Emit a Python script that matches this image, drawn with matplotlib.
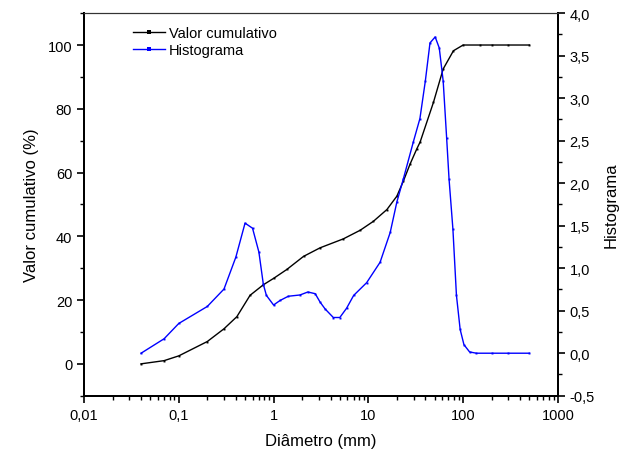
import matplotlib
matplotlib.use("Agg")
import matplotlib.pyplot as plt
from matplotlib.ticker import FixedLocator, FuncFormatter, LogLocator, MultipleLocator, NullFormatter
import numpy as np

plt.rcParams['font.family'] = ['Liberation Sans', 'DejaVu Sans']

# cumulative curve (left axis, %)
cum_d = [0.04, 0.07, 0.1, 0.2, 0.3, 0.41, 0.565, 0.78, 1.0, 1.38, 2.07, 3.1, 5.45, 8.2, 11.3, 15.7, 20,
         23.4, 27.5, 32.3, 35.2, 48.6, 61.6, 79, 100, 150, 200, 300, 500]
cum_v = [0.0, 1.0, 2.5, 7.0, 11.0, 14.8, 21.5, 24.8, 26.8, 29.6, 33.7, 36.4, 39.2, 41.9, 44.7, 48.4, 52.6,
         57.3, 62.6, 67.3, 69.6, 82.0, 92.5, 98.2, 100.0, 100.0, 100.0, 100.0, 100.0]

# histogram curve (right axis)
hist_d = [0.04, 0.07, 0.1, 0.2, 0.3, 0.4, 0.5, 0.6, 0.7, 0.78, 0.84, 1.0, 1.17, 1.43, 1.9, 2.3, 2.75,
          3.1, 3.5, 4.27, 5.0, 5.9, 7.0, 9.6, 13.3, 17, 20, 23.4, 29.9, 35, 39.9, 44.7, 50.7,
          56, 61.6, 67, 71, 78, 85, 93, 102, 117, 138, 200, 300, 500]
hist_v = [0.0, 0.17, 0.35, 0.55, 0.755, 1.13, 1.53, 1.47, 1.19, 0.81, 0.68, 0.567, 0.62, 0.67, 0.685, 0.72, 0.70,
          0.6, 0.52, 0.42, 0.42, 0.53, 0.68, 0.83, 1.07, 1.42, 1.78, 2.05, 2.49, 2.76, 3.2, 3.65, 3.72,
          3.59, 3.2, 2.53, 2.05, 1.46, 0.68, 0.28, 0.1, 0.015, 0.0, 0.0, 0.0, 0.0]

x_ticks = [0.01, 0.1, 1, 10, 100, 1000]
x_labels = ['0,01', '0,1', '1', '10', '100', '1000']

fig, ax = plt.subplots(figsize=(6.34, 4.56), dpi=100)
fig.subplots_adjust(left=0.1325, right=0.88, top=0.969, bottom=0.13)
ax2 = ax.twinx()

l1, = ax.plot(cum_d, cum_v, color='black', lw=1.0, marker='s', ms=1.4, mew=0, label='Valor cumulativo')
l2, = ax2.plot(hist_d, hist_v, color='#0000ff', lw=1.0, marker='s', ms=1.4, mew=0, label='Histograma')

ax.set_xscale('log')
ax.set_xlim(0.01, 1000)
ax.set_ylim(-10, 110)
ax2.set_ylim(-0.5, 4.0)

ax.xaxis.set_major_locator(FixedLocator(x_ticks))
ax.xaxis.set_major_formatter(FuncFormatter(lambda v, p: x_labels[x_ticks.index(v)] if v in x_ticks else ''))
ax.xaxis.set_minor_locator(LogLocator(base=10, subs=np.arange(2, 10)))
ax.xaxis.set_minor_formatter(NullFormatter())

ax.yaxis.set_major_locator(FixedLocator([0, 20, 40, 60, 80, 100]))
ax.yaxis.set_minor_locator(FixedLocator([-10, 10, 30, 50, 70, 90, 110]))
ax2.yaxis.set_major_locator(MultipleLocator(0.5))
ax2.yaxis.set_minor_locator(MultipleLocator(0.25))
ax2.yaxis.set_major_formatter(FuncFormatter(lambda v, p: ('%.1f' % v).replace('.', ',')))

for a in (ax, ax2):
    a.tick_params(which='major', direction='out', length=5, width=1.2, labelsize=10.5)
    a.tick_params(which='minor', direction='out', length=3, width=1.0)
    for s in ('left', 'right', 'bottom'):
        a.spines[s].set_linewidth(1.4)
    a.spines['top'].set_linewidth(0.8)
    a.spines['top'].set_color('#333333')

ax.set_xlabel('Diâmetro (mm)', fontsize=12, labelpad=8)
ax.set_ylabel('Valor cumulativo (%)', fontsize=12, labelpad=6)
ax2.set_ylabel('Histograma', fontsize=12, labelpad=6)

ax.legend(handles=[l1, l2], loc='upper left', bbox_to_anchor=(0.075, 1.0), frameon=False,
          fontsize=10.5, handlelength=2.2, handletextpad=0.3, labelspacing=0.2, markerscale=2.2)

fig.savefig('out.png', dpi=100)
